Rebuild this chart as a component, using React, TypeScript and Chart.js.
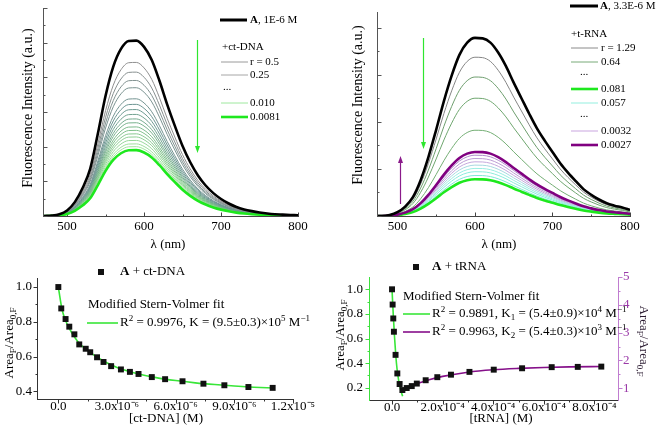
import React, { useEffect, useRef } from "react";
import { Chart, registerables } from "chart.js";

Chart.register(...registerables);

const FONT = "'Liberation Serif', 'Times New Roman', Times, serif";

// ===== Panel 1: A (1E-6 M) + ct-DNA emission spectra =====
const dnaWavelengths = [470, 480, 490, 500, 510, 520, 530, 540, 550, 560, 570, 580, 590, 600, 610, 620, 630, 640, 650, 660, 670, 680, 690, 700, 710, 720, 730, 740, 750, 760, 770, 780, 790, 800];
const dnaFreeSpectrum = [0.0, 0.01, 0.05, 0.16, 0.4, 0.8, 1.36, 2.38, 3.47, 4.31, 4.82, 5.05, 5.06, 4.88, 4.5, 3.9, 3.22, 2.6, 2.02, 1.55, 1.17, 0.88, 0.66, 0.49, 0.36, 0.26, 0.19, 0.14, 0.1, 0.07, 0.05, 0.04, 0.03, 0.02];
const dnaTitrationPeaks = [4.43, 4.15, 3.91, 3.7, 3.38, 3.22, 3.07, 2.93, 2.8, 2.69, 2.57, 2.47, 2.37, 2.28, 2.18, 2.08, 2.0];
const dnaLastPeak = 1.9;
const dnaLegendTitle = "*A*, 1E-6 M";
const dnaLegendLabels = ["+ct-DNA", "r = 0.5", "0.25", "...", "0.010", "0.0081"];

// ===== Panel 2: A (3.3E-6 M) + t-RNA emission spectra =====
const rnaWavelengths = [475, 480, 490, 500, 510, 520, 530, 540, 550, 560, 570, 580, 590, 600, 610, 620, 630, 640, 650, 660, 670, 680, 690, 700, 710, 720, 730, 740, 750, 760, 770, 780, 790, 800];
const rnaFreeSpectrum = [0.0, 0.0, 0.02, 0.08, 0.2, 0.4, 0.76, 1.25, 1.83, 2.44, 2.98, 3.42, 3.68, 3.78, 3.77, 3.68, 3.47, 3.18, 2.83, 2.5, 2.17, 1.86, 1.6, 1.36, 1.12, 0.92, 0.74, 0.57, 0.45, 0.35, 0.27, 0.22, 0.18, 0.13];
const rnaQuenchPeaks = [3.37, 2.95, 2.5, 1.82];
const rnaMinPeak = 0.78;
const rnaCyanPeaks = [0.86, 0.94, 1.01, 1.08];
const rnaLilacPeaks = [1.15, 1.22, 1.29];
const rnaLastPeak = 1.36;
const rnaLegendTitle = "*A*, 3.3E-6 M";
const rnaLegendLabels = ["+t-RNA", "r = 1.29", "0.64", "...", "0.081", "0.057", "...", "0.0032", "0.0027"];

const spectrumXTicks = [500, 600, 700, 800];
const dnaSpecYTicks = [0, 1, 2, 3, 4, 5, 6];
const rnaSpecYTicks = [0, 1, 2, 3, 4];

// ===== Panel 3: Stern-Volmer, ct-DNA =====
const dnaConc = [0, 1.5e-7, 3.7e-7, 5.6e-7, 8.2e-7, 1.07e-6, 1.4e-6, 1.63e-6, 1.98e-6, 2.31e-6, 2.7e-6, 3.2e-6, 3.66e-6, 4.1e-6, 4.78e-6, 5.46e-6, 6.35e-6, 7.42e-6, 8.49e-6, 9.72e-6, 1.096e-5];
const dnaRatio = [1.0, 0.877, 0.816, 0.772, 0.728, 0.67, 0.645, 0.625, 0.596, 0.569, 0.545, 0.526, 0.512, 0.5, 0.482, 0.47, 0.458, 0.444, 0.435, 0.425, 0.42];
const dnaFitConc = [0, 2e-7, 5e-7, 1e-6, 1.5e-6, 2e-6, 3e-6, 4e-6, 5e-6, 6e-6, 7e-6, 8e-6, 9e-6, 1e-5, 1.1e-5];
const dnaFitRatio = [1.0, 0.865, 0.775, 0.685, 0.635, 0.595, 0.537, 0.503, 0.479, 0.462, 0.449, 0.439, 0.431, 0.424, 0.419];
const dnaXTicks = [0, 3e-6, 6e-6, 9e-6, 1.2e-5];
const dnaXTickLabels = ["0.0", "3.0x10⁻⁶", "6.0x10⁻⁶", "9.0x10⁻⁶", "1.2x10⁻⁵"];
const dnaYTicks = [0.4, 0.6, 0.8, 1.0];

// ===== Panel 4: Stern-Volmer, tRNA =====
const rnaConcQuench = [0, 2.4e-6, 5e-6, 7.5e-6, 1.4e-5, 2.1e-5, 3.0e-5, 4.1e-5];
const rnaRatioQuench = [1.0, 0.876, 0.763, 0.655, 0.467, 0.316, 0.23, 0.181];
const rnaConcEnh = [5.8e-5, 7.8e-5, 9.8e-5, 1.33e-4, 1.79e-4, 2.33e-4, 3.06e-4, 4.02e-4, 5.14e-4, 6.31e-4, 7.34e-4, 8.27e-4];
const rnaRatioEnh = [1.01, 1.08, 1.17, 1.29, 1.4, 1.49, 1.59, 1.67, 1.72, 1.76, 1.77, 1.78];
const rnaFit1Conc = [0, 5e-6, 1e-5, 1.5e-5, 2e-5, 2.7e-5, 3.4e-5, 4.2e-5];
const rnaFit1Ratio = [1.0, 0.79, 0.61, 0.46, 0.35, 0.25, 0.185, 0.13];
const rnaFit2Conc = [3.4e-5, 6e-5, 1e-4, 1.5e-4, 2e-4, 3e-4, 4e-4, 5e-4, 6e-4, 7e-4, 8.3e-4];
const rnaFit2Ratio = [0.9, 1.02, 1.17, 1.32, 1.43, 1.58, 1.665, 1.715, 1.75, 1.77, 1.785];
const rnaXTicks = [0, 2e-4, 4e-4, 6e-4, 8e-4];
const rnaXTickLabels = ["0.0", "2.0x10⁻⁴", "4.0x10⁻⁴", "6.0x10⁻⁴", "8.0x10⁻⁴"];
const rnaYTicks = [0.2, 0.4, 0.6, 0.8, 1.0];
const rnaY2Ticks = [1, 2, 3, 4, 5];

// ---------- helpers ----------
type Seg = { t: string; mode: number; bold: boolean };
function parseRich(s: string): Seg[] {
  const out: Seg[] = [];
  let bold = false;
  let buf = "";
  let i = 0;
  const flush = () => {
    if (buf) out.push({ t: buf, mode: 0, bold });
    buf = "";
  };
  while (i < s.length) {
    const c = s[i];
    if (c === "*") {
      flush();
      bold = !bold;
      i++;
      continue;
    }
    if ((c === "_" || c === "^") && s[i + 1] === "{") {
      flush();
      const end = s.indexOf("}", i);
      out.push({ t: s.slice(i + 2, end), mode: c === "_" ? 1 : 2, bold });
      i = end + 1;
      continue;
    }
    buf += c;
    i++;
  }
  flush();
  return out;
}
function segFont(s: Seg, size: number) {
  const sz = s.mode ? Math.round(size * 0.7) : size;
  return `${s.bold ? "bold " : ""}${sz}px ${FONT}`;
}
function drawRich(
  ctx: CanvasRenderingContext2D,
  text: string,
  x: number,
  y: number,
  o: { size?: number; color?: string; align?: "left" | "center" | "right"; rotate?: number } = {}
) {
  const segs = parseRich(text);
  const size = o.size ?? 13;
  ctx.save();
  ctx.translate(x, y);
  if (o.rotate) ctx.rotate(o.rotate);
  let w = 0;
  for (const s of segs) {
    ctx.font = segFont(s, size);
    w += ctx.measureText(s.t).width;
  }
  let cx = o.align === "center" ? -w / 2 : o.align === "right" ? -w : 0;
  ctx.fillStyle = o.color ?? "#000";
  ctx.textBaseline = "middle";
  ctx.textAlign = "left";
  for (const s of segs) {
    ctx.font = segFont(s, size);
    const dy = s.mode === 1 ? size * 0.3 : s.mode === 2 ? -size * 0.33 : 0;
    ctx.fillText(s.t, cx, dy);
    cx += ctx.measureText(s.t).width;
  }
  ctx.restore();
}
function hLine(ctx: CanvasRenderingContext2D, x1: number, x2: number, y: number, color: string, w: number) {
  ctx.save();
  ctx.strokeStyle = color;
  ctx.lineWidth = w;
  ctx.beginPath();
  ctx.moveTo(x1, y);
  ctx.lineTo(x2, y);
  ctx.stroke();
  ctx.restore();
}
function vArrow(ctx: CanvasRenderingContext2D, x: number, y1: number, y2: number, color: string) {
  const dir = Math.sign(y2 - y1);
  ctx.save();
  ctx.strokeStyle = color;
  ctx.fillStyle = color;
  ctx.lineWidth = 1.2;
  ctx.beginPath();
  ctx.moveTo(x, y1);
  ctx.lineTo(x, y2 - dir * 5);
  ctx.stroke();
  ctx.beginPath();
  ctx.moveTo(x - 2.5, y2 - dir * 7);
  ctx.lineTo(x + 2.5, y2 - dir * 7);
  ctx.lineTo(x, y2);
  ctx.closePath();
  ctx.fill();
  ctx.restore();
}
function square(ctx: CanvasRenderingContext2D, x: number, y: number) {
  ctx.save();
  ctx.fillStyle = "#111";
  ctx.fillRect(x - 3, y - 3, 6, 6);
  ctx.restore();
}

type AxisSpec = { scale: string; side: "left" | "right" | "bottom"; color: string; majors: number[]; inward: boolean };
function axesPlugin(specs: AxisSpec[]) {
  return {
    id: "axesDraw",
    beforeDatasetsDraw(chart: any) {
      const ctx = chart.ctx as CanvasRenderingContext2D;
      const a = chart.chartArea;
      for (const sp of specs) {
        const sc = chart.scales[sp.scale];
        const m = sp.majors;
        const step = m[1] - m[0];
        const all = [m[0] - step, ...m, m[m.length - 1] + step];
        const minors: number[] = [];
        for (let i = 0; i < all.length - 1; i++) {
          const v = (all[i] + all[i + 1]) / 2;
          if (v > sc.min && v < sc.max) minors.push(v);
        }
        ctx.save();
        ctx.strokeStyle = sp.color;
        ctx.lineWidth = 1;
        ctx.beginPath();
        const yb = Math.round(a.bottom) + 0.5;
        const xl = Math.round(a.left) - 0.5;
        const xr = Math.round(a.right) + 0.5;
        if (sp.side === "bottom") {
          ctx.moveTo(a.left - 1, yb);
          ctx.lineTo(a.right + 1, yb);
        } else {
          const x = sp.side === "left" ? xl : xr;
          ctx.moveTo(x, a.top);
          ctx.lineTo(x, a.bottom + 1);
        }
        ctx.stroke();
        const mark = (v: number, len: number) => {
          const p = Math.round(sc.getPixelForValue(v)) + 0.5;
          ctx.beginPath();
          if (sp.side === "bottom") {
            const d = sp.inward ? -len : len;
            ctx.moveTo(p, yb);
            ctx.lineTo(p, yb + d);
          } else if (sp.side === "left") {
            const d = sp.inward ? len : -len;
            ctx.moveTo(xl, p);
            ctx.lineTo(xl + d, p);
          } else {
            const d = sp.inward ? -len : len;
            ctx.moveTo(xr, p);
            ctx.lineTo(xr + d, p);
          }
          ctx.stroke();
        };
        const eps = Math.abs(step) * 1e-6;
        m.forEach((v) => {
          if (v >= sc.min - eps && v <= sc.max + eps) mark(v, 4);
        });
        minors.forEach((v) => mark(v, 2));
        ctx.restore();
      }
    },
  };
}
function notesPlugin(draw: (ctx: CanvasRenderingContext2D) => void) {
  return {
    id: "notes",
    afterDraw(chart: any) {
      draw(chart.ctx);
    },
  };
}

function linScale(o: {
  min: number;
  max: number;
  ticks: number[];
  labels: string[] | null;
  size: number;
  position: string;
  pad: number;
  axis: "x" | "y";
  color?: string;
}) {
  return {
    type: "linear",
    position: o.position,
    min: o.min,
    max: o.max,
    grid: { display: false, drawTicks: false, tickLength: 0 },
    border: { display: false },
    title: { display: false },
    ticks: {
      display: !!o.labels,
      padding: o.pad,
      autoSkip: false,
      maxRotation: 0,
      minRotation: 0,
      color: o.color ?? "#000",
      font: { family: FONT, size: 13 },
      callback: (_v: any, i: number) => (o.labels ? o.labels[i] : ""),
    },
    afterBuildTicks: (s: any) => {
      s.ticks = o.ticks.map((v) => ({ value: v }));
    },
    afterFit: (s: any) => {
      if (o.axis === "x") s.height = o.size;
      else s.width = o.size;
      s.paddingLeft = 0;
      s.paddingRight = 0;
      s.paddingTop = 0;
      s.paddingBottom = 0;
    },
  };
}

function scaledSpectrum(wl: number[], base: number[], peak: number) {
  const bmax = Math.max(...base);
  return wl.map((x, i) => ({ x, y: (base[i] * peak) / bmax }));
}
function pts(xs: number[], ys: number[]) {
  return xs.map((x, i) => ({ x, y: ys[i] }));
}
function hex(c: string) {
  return [1, 3, 5].map((i) => parseInt(c.slice(i, i + 2), 16));
}
function mixColor(stops: string[], t: number) {
  const seg = Math.min(stops.length - 2, Math.floor(t * (stops.length - 1)));
  const lt = t * (stops.length - 1) - seg;
  const a = hex(stops[seg]);
  const b = hex(stops[seg + 1]);
  const c = a.map((v, i) => Math.round(v + (b[i] - v) * lt));
  return `rgb(${c[0]},${c[1]},${c[2]})`;
}

const lineBase = {
  pointRadius: 0,
  tension: 0.4,
  cubicInterpolationMode: "monotone",
  fill: false,
};

const baseOptions = (padding: any, scales: any) => ({
  responsive: false,
  animation: false,
  devicePixelRatio: 1,
  events: [],
  layout: { padding },
  plugins: { legend: { display: false }, tooltip: { enabled: false }, title: { display: false } },
  scales,
});

const LEG = 11;

// ---------- panel builders ----------
function buildPanel1() {
  const n = dnaTitrationPeaks.length;
  const thinStops = ["#8e8e8e", "#6a9592", "#7fbf8a", "#a4e6a0"];
  const datasets: any[] = [
    { ...lineBase, data: scaledSpectrum(dnaWavelengths, dnaFreeSpectrum, Math.max(...dnaFreeSpectrum)), borderColor: "#000", borderWidth: 2.6, order: 0 },
    { ...lineBase, data: scaledSpectrum(dnaWavelengths, dnaFreeSpectrum, dnaLastPeak), borderColor: "#1ee81e", borderWidth: 2.6, order: 1 },
    ...dnaTitrationPeaks.map((p, i) => ({
      ...lineBase,
      data: scaledSpectrum(dnaWavelengths, dnaFreeSpectrum, p),
      borderColor: mixColor(thinStops, i / (n - 1)),
      borderWidth: 1,
      order: 2,
    })),
  ];
  const draw = (ctx: CanvasRenderingContext2D) => {
    drawRich(ctx, "Fluorescence Intensity (a.u.)", 28, 108, { align: "center", rotate: -Math.PI / 2, size: 14 });
    drawRich(ctx, "λ (nm)", 168, 245, { align: "center" });
    hLine(ctx, 220, 247, 20, "#000", 3);
    drawRich(ctx, dnaLegendTitle, 250, 20, { size: LEG });
    const ys = [47, 62, 75, 87, 103, 117];
    const lineCols = [null, "#9a9a9a", "#a6a6a6", null, "#9ee89e", "#1ee81e"];
    const lineWs = [0, 1, 1, 0, 1, 2.6];
    dnaLegendLabels.forEach((lab, i) => {
      if (i === 0) {
        drawRich(ctx, lab, 222, ys[i], { size: LEG });
      } else if (lab === "...") {
        drawRich(ctx, lab, 223, ys[i], { size: LEG });
      } else {
        hLine(ctx, 221, 248, ys[i], lineCols[i] as string, lineWs[i]);
        drawRich(ctx, lab, 250, ys[i], { size: LEG });
      }
    });
    vArrow(ctx, 197.5, 40, 153, "#2ee62e");
  };
  return {
    type: "line",
    data: { datasets },
    options: baseOptions(
      { top: 8, right: 32, left: 0, bottom: 0 },
      {
        x: linScale({ min: 470, max: 800, ticks: spectrumXTicks, labels: spectrumXTicks.map(String), size: 39, position: "bottom", pad: 3, axis: "x" }),
        y: linScale({ min: 0, max: 6, ticks: dnaSpecYTicks, labels: null, size: 44, position: "left", pad: 0, axis: "y" }),
      }
    ),
    plugins: [
      axesPlugin([
        { scale: "x", side: "bottom", color: "#444", majors: spectrumXTicks, inward: true },
        { scale: "y", side: "left", color: "#555", majors: dnaSpecYTicks, inward: true },
      ]),
      notesPlugin(draw),
    ],
  };
}

function buildPanel2() {
  const datasets: any[] = [
    { ...lineBase, data: scaledSpectrum(rnaWavelengths, rnaFreeSpectrum, Math.max(...rnaFreeSpectrum)), borderColor: "#000", borderWidth: 2.6, order: 0 },
    { ...lineBase, data: scaledSpectrum(rnaWavelengths, rnaFreeSpectrum, rnaLastPeak), borderColor: "#800080", borderWidth: 2.6, order: 1 },
    { ...lineBase, data: scaledSpectrum(rnaWavelengths, rnaFreeSpectrum, rnaMinPeak), borderColor: "#1ee81e", borderWidth: 2.6, order: 2 },
    ...rnaQuenchPeaks.map((p, i) => ({
      ...lineBase,
      data: scaledSpectrum(rnaWavelengths, rnaFreeSpectrum, p),
      borderColor: ["#858585", "#6e9e6e", "#6ea66e", "#74ae74"][i],
      borderWidth: 1,
      order: 3,
    })),
    ...rnaCyanPeaks.map((p, i) => ({
      ...lineBase,
      data: scaledSpectrum(rnaWavelengths, rnaFreeSpectrum, p),
      borderColor: ["#7ee8d6", "#8cecdc", "#9aeee2", "#a8d8e0"][i],
      borderWidth: 1,
      order: 4,
    })),
    ...rnaLilacPeaks.map((p, i) => ({
      ...lineBase,
      data: scaledSpectrum(rnaWavelengths, rnaFreeSpectrum, p),
      borderColor: ["#c4a8dc", "#bc9cd4", "#b08ccc"][i],
      borderWidth: 1,
      order: 4,
    })),
  ];
  const draw = (ctx: CanvasRenderingContext2D) => {
    drawRich(ctx, "Fluorescence Intensity (a.u.)", 28, 105, { align: "center", rotate: -Math.PI / 2, size: 14 });
    drawRich(ctx, "λ (nm)", 169, 245, { align: "center" });
    hLine(ctx, 240, 268, 6, "#000", 3);
    drawRich(ctx, rnaLegendTitle, 270, 6, { size: LEG });
    const ys = [34, 48, 62, 72, 89, 103, 114, 131, 145];
    const lineCols = [null, "#8a8a8a", "#78aa78", null, "#1ee81e", "#a4f2e4", null, "#d2b4e4", "#800080"];
    const lineWs = [0, 1, 1, 0, 2.6, 1.2, 0, 1.2, 2.6];
    rnaLegendLabels.forEach((lab, i) => {
      if (i === 0) {
        drawRich(ctx, lab, 241, ys[i], { size: LEG });
      } else if (lab === "...") {
        drawRich(ctx, lab, 250, ys[i], { size: LEG });
      } else {
        hLine(ctx, 241, 268, ys[i], lineCols[i] as string, lineWs[i]);
        drawRich(ctx, lab, 271, ys[i], { size: LEG });
      }
    });
    vArrow(ctx, 93.5, 38, 149, "#2ee62e");
    vArrow(ctx, 70.5, 204, 156, "#8a1a8a");
  };
  return {
    type: "line",
    data: { datasets },
    options: baseOptions(
      { top: 12, right: 29, left: 0, bottom: 0 },
      {
        x: linScale({ min: 475, max: 800, ticks: spectrumXTicks, labels: spectrumXTicks.map(String), size: 39, position: "bottom", pad: 3, axis: "x" }),
        y: linScale({ min: 0, max: 4.33, ticks: rnaSpecYTicks, labels: null, size: 48, position: "left", pad: 0, axis: "y" }),
      }
    ),
    plugins: [
      axesPlugin([
        { scale: "x", side: "bottom", color: "#444", majors: spectrumXTicks, inward: true },
        { scale: "y", side: "left", color: "#555", majors: rnaSpecYTicks, inward: true },
      ]),
      notesPlugin(draw),
    ],
  };
}

function buildPanel3() {
  const datasets: any[] = [
    {
      data: pts(dnaConc, dnaRatio),
      showLine: false,
      pointStyle: "rect",
      pointRadius: 4.2,
      pointBorderWidth: 0,
      backgroundColor: "#111",
      borderColor: "#111",
      order: 0,
    },
    { ...lineBase, data: pts(dnaFitConc, dnaFitRatio), borderColor: "#39e639", borderWidth: 1.6, order: 1 },
  ];
  const draw = (ctx: CanvasRenderingContext2D) => {
    square(ctx, 101, 17);
    drawRich(ctx, "*A* + ct-DNA", 120, 17);
    drawRich(ctx, "Modified Stern-Volmer fit", 88, 50);
    hLine(ctx, 87, 118, 68, "#39e639", 1.6);
    drawRich(ctx, "R^{2} = 0.9976, K = (9.5±0.3)×10^{5} M^{−1}", 120, 68);
    drawRich(ctx, "Area_{F}/Area_{0,F}", 10, 88, { align: "center", rotate: -Math.PI / 2 });
    drawRich(ctx, "[ct-DNA] (M)", 166, 164, { align: "center" });
  };
  return {
    type: "line",
    data: { datasets },
    options: baseOptions(
      { top: 23, right: 37, left: 0, bottom: 0 },
      {
        x: linScale({ min: -1.04e-6, max: 1.2e-5, ticks: dnaXTicks, labels: dnaXTickLabels, size: 31, position: "bottom", pad: 0, axis: "x" }),
        y: linScale({ min: 0.356, max: 1.052, ticks: dnaYTicks, labels: dnaYTicks.map((v) => v.toFixed(1)), size: 38, position: "left", pad: 6, axis: "y" }),
      }
    ),
    plugins: [
      axesPlugin([
        { scale: "x", side: "bottom", color: "#333", majors: dnaXTicks, inward: false },
        { scale: "y", side: "left", color: "#333", majors: dnaYTicks, inward: false },
      ]),
      notesPlugin(draw),
    ],
  };
}

function buildPanel4() {
  const datasets: any[] = [
    {
      data: pts(rnaConcQuench, rnaRatioQuench),
      yAxisID: "y",
      showLine: false,
      pointStyle: "rect",
      pointRadius: 4.2,
      pointBorderWidth: 0,
      backgroundColor: "#111",
      borderColor: "#111",
      order: 0,
    },
    {
      data: pts(rnaConcEnh, rnaRatioEnh),
      yAxisID: "y2",
      showLine: false,
      pointStyle: "rect",
      pointRadius: 4.2,
      pointBorderWidth: 0,
      backgroundColor: "#111",
      borderColor: "#111",
      order: 0,
    },
    { ...lineBase, yAxisID: "y", data: pts(rnaFit1Conc, rnaFit1Ratio), borderColor: "#39e639", borderWidth: 1.6, order: 1 },
    { ...lineBase, yAxisID: "y2", data: pts(rnaFit2Conc, rnaFit2Ratio), borderColor: "#86108a", borderWidth: 1.6, order: 1 },
  ];
  const draw = (ctx: CanvasRenderingContext2D) => {
    square(ctx, 86, 12);
    drawRich(ctx, "*A* + tRNA", 102, 12);
    drawRich(ctx, "Modified Stern-Volmer fit", 73, 42);
    hLine(ctx, 73, 100, 59, "#39e639", 1.6);
    drawRich(ctx, "R^{2} = 0.9891, K_{1} = (5.4±0.9)×10^{4} M^{−1}", 102, 59);
    hLine(ctx, 73, 100, 77, "#86108a", 1.6);
    drawRich(ctx, "R^{2} = 0.9963, K_{2} = (5.4±0.3)×10^{3} M^{−1}", 102, 77);
    drawRich(ctx, "Area_{F}/Area_{0,F}", 11, 80, { align: "center", rotate: -Math.PI / 2 });
    drawRich(ctx, "Area_{F}/Area_{0,F}", 313, 86, { align: "center", rotate: Math.PI / 2, color: "#2a1a30" });
    drawRich(ctx, "[tRNA] (M)", 171, 164, { align: "center" });
  };
  return {
    type: "line",
    data: { datasets },
    options: baseOptions(
      { top: 22, right: 0, left: 0, bottom: 0 },
      {
        x: linScale({ min: -0.87e-4, max: 8.93e-4, ticks: rnaXTicks, labels: rnaXTickLabels, size: 30, position: "bottom", pad: 0, axis: "x" }),
        y: linScale({ min: 0.1, max: 1.1, ticks: rnaYTicks, labels: rnaYTicks.map((v) => v.toFixed(1)), size: 40, position: "left", pad: 7, axis: "y" }),
        y2: linScale({ min: 0.58, max: 5.0, ticks: rnaY2Ticks, labels: rnaY2Ticks.map(String), size: 41, position: "right", pad: 5, axis: "y", color: "#9a3aa8" }),
      }
    ),
    plugins: [
      axesPlugin([
        { scale: "x", side: "bottom", color: "#333", majors: rnaXTicks, inward: false },
        { scale: "y", side: "left", color: "#3de03d", majors: rnaYTicks, inward: false },
        { scale: "y2", side: "right", color: "#c07cd0", majors: rnaY2Ticks, inward: false },
      ]),
      notesPlugin(draw),
    ],
  };
}

function Panel(props: { left: number; top: number; width: number; height: number; build: () => any }) {
  const ref = useRef<HTMLCanvasElement>(null);
  useEffect(() => {
    const chart = new Chart(ref.current as HTMLCanvasElement, props.build());
    return () => chart.destroy();
  }, []);
  return (
    <canvas
      ref={ref}
      width={props.width}
      height={props.height}
      style={{ position: "absolute", left: props.left, top: props.top, width: props.width, height: props.height }}
    />
  );
}

export default function App() {
  return (
    <div style={{ position: "fixed", left: 0, top: 0, width: 659, height: 430, background: "#fff", overflow: "hidden" }}>
      <Panel left={0} top={0} width={330} height={255} build={buildPanel1} />
      <Panel left={330} top={0} width={329} height={255} build={buildPanel2} />
      <Panel left={0} top={255} width={330} height={175} build={buildPanel3} />
      <Panel left={330} top={255} width={329} height={175} build={buildPanel4} />
    </div>
  );
}
